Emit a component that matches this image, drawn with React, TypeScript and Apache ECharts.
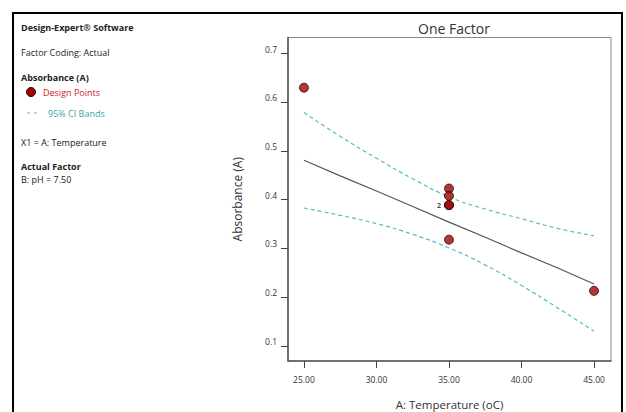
import React, { useEffect, useRef } from "react";
import * as echarts from "echarts";

// Design points (A: Temperature, Absorbance)
const pointTemp = [25, 35, 35, 35, 35, 35, 45];
const pointAbs = [0.63, 0.423, 0.408, 0.389, 0.389, 0.318, 0.213];

// Model prediction and 95% CI bands read along temperature
const curveTemp = [25, 27.5, 30, 32.5, 35, 37.5, 40, 42.5, 45];
const fitAbs = [0.481, 0.449, 0.418, 0.386, 0.354, 0.323, 0.291, 0.26, 0.227];
const upperAbs = [0.579, 0.53, 0.485, 0.443, 0.406, 0.381, 0.361, 0.341, 0.326];
const lowerAbs = [0.383, 0.368, 0.351, 0.329, 0.301, 0.266, 0.224, 0.178, 0.13];

const xTicks = [25, 30, 35, 40, 45];
const yTicks = [0.1, 0.2, 0.3, 0.4, 0.5, 0.6, 0.7];

const FONT = "'Open Sans', 'Noto Sans', sans-serif";
const TEAL = "#5cbcbc";
const RED = "#a80000";

export default function App() {
  const ref = useRef<HTMLDivElement>(null);
  useEffect(() => {
    if (!ref.current) return;
    const chart = echarts.init(ref.current, undefined, { renderer: "svg" });
    const pair = (xs: number[], ys: number[]) => xs.map((x, i) => [x, ys[i]]);
    const pts = pair(pointTemp, pointAbs).map((p, i) =>
      i === 3
        ? {
            value: p,
            label: {
              show: true,
              formatter: "2",
              position: "left",
              distance: 3,
              fontSize: 7,
              fontWeight: "bold",
              color: "#222",
              fontFamily: FONT,
            },
          }
        : { value: p }
    );
    const leftText = (y: number, text: string, bold = false, color = "#222", x = 21) => ({
      type: "text",
      x,
      y,
      style: {
        text,
        fill: color,
        fontSize: 9,
        fontWeight: bold ? "bold" : "normal",
        fontFamily: FONT,
        verticalAlign: "middle",
        align: "left",
      },
    });
    chart.setOption({
      animation: false,
      backgroundColor: "#fff",
      title: {
        text: "One Factor",
        left: 449,
        textAlign: "center",
        top: 16,
        textStyle: { fontSize: 14, fontWeight: "normal", color: "#333", fontFamily: FONT },
      },
      grid: {
        left: 288,
        top: 37.5,
        right: 15,
        bottom: 51,
        outerBoundsMode: "none",
        containLabel: false,
        show: true,
        borderColor: "#888",
        borderWidth: 1,
        backgroundColor: "transparent",
      },
      xAxis: {
        type: "value",
        min: 23.9,
        max: 46.17,
        name: "A: Temperature (oC)",
        nameLocation: "middle",
        nameGap: 37,
        nameTextStyle: { fontSize: 11.5, lineHeight: 12, color: "#333", fontFamily: FONT },
        axisLine: { show: true, onZero: false, lineStyle: { color: "#555", width: 1.5 } },
        axisTick: { show: true, length: 7, customValues: xTicks, lineStyle: { color: "#444" } },
        axisLabel: {
          customValues: xTicks,
          formatter: (v: number) => v.toFixed(2),
          fontSize: 8.5,
          color: "#333",
          margin: 14,
          fontFamily: FONT,
        },
        splitLine: { show: false },
      },
      yAxis: {
        type: "value",
        min: 0.069,
        max: 0.733,
        name: "Absorbance (A)",
        nameLocation: "middle",
        nameGap: 45,
        nameTextStyle: { fontSize: 12, color: "#333", fontFamily: FONT },
        axisLine: { show: true, onZero: false, lineStyle: { color: "#555", width: 1.5 } },
        axisTick: { show: true, length: 7, customValues: yTicks, lineStyle: { color: "#444" } },
        axisLabel: {
          customValues: yTicks,
          formatter: (v: number) => v.toFixed(1),
          fontSize: 8.5,
          color: "#333",
          margin: 11,
          verticalAlign: "bottom",
          fontFamily: FONT,
        },
        splitLine: { show: false },
      },
      series: [
        {
          type: "line",
          data: pair(curveTemp, upperAbs),
          smooth: true,
          symbol: "none",
          lineStyle: { color: TEAL, width: 1.2, type: [4, 3] },
        },
        {
          type: "line",
          data: pair(curveTemp, lowerAbs),
          smooth: true,
          symbol: "none",
          lineStyle: { color: TEAL, width: 1.2, type: [4, 3] },
        },
        {
          type: "line",
          data: pair(curveTemp, fitAbs),
          symbol: "none",
          lineStyle: { color: "#555", width: 1.2 },
        },
        {
          type: "scatter",
          data: pts,
          symbolSize: 9,
          itemStyle: { color: RED, borderColor: "#111", borderWidth: 1 },
          z: 5,
        },
      ],
      graphic: [
        {
          type: "rect",
          shape: { x: 13, y: 13, width: 609, height: 430 },
          style: { fill: "none", stroke: "#000", lineWidth: 2 },
          silent: true,
        },
        leftText(27, "Design-Expert® Software", true),
        leftText(52, "Factor Coding: Actual"),
        leftText(77, "Absorbance (A)", true),
        {
          type: "circle",
          shape: { cx: 31, cy: 92, r: 4.5 },
          style: { fill: RED, stroke: "#111", lineWidth: 1 },
        },
        leftText(92, "Design Points", false, "#d0202a", 43),
        {
          type: "line",
          shape: { x1: 27, y1: 113, x2: 40, y2: 113 },
          style: { stroke: TEAL, lineWidth: 1, lineDash: [3, 4] },
        },
        leftText(113, "95% CI Bands", false, "#3aa6a6", 48),
        leftText(142, "X1 = A: Temperature"),
        leftText(166, "Actual Factor", true),
        leftText(179, "B: pH = 7.50"),
      ],
    });
    return () => chart.dispose();
  }, []);
  return (
    <div
      ref={ref}
      style={{ position: "absolute", left: 0, top: 0, width: 626, height: 412 }}
    />
  );
}
